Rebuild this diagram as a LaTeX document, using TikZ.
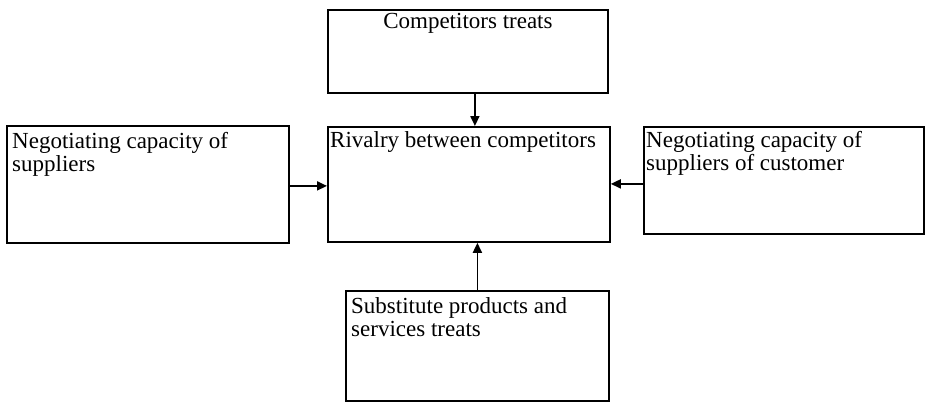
\documentclass[tikz,border=0pt]{standalone}
\usepackage{fontspec}
\setmainfont{Liberation Serif}
\usetikzlibrary{arrows.meta}
\begin{document}
\begin{tikzpicture}[x=1pt,y=-1pt,
  box/.style={draw=black, line width=1.8pt, rectangle, inner sep=0pt, anchor=north west},
  txt/.style={inner sep=0pt, font=\fontsize{23}{23}\selectfont, align=left, anchor=base west},
  arr/.style={line width=1.8pt, -{Triangle[length=10pt,width=9pt]}}]
\fill[white] (0,0) rectangle (926,402);
\useasboundingbox (0,0) rectangle (926,402);
% boxes
\node[box, minimum width=280pt, minimum height=83pt] (top) at (327,9) {};
\node[box, minimum width=282pt, minimum height=115pt] (center) at (327,126) {};
\node[box, minimum width=282pt, minimum height=117pt] (left) at (6,125) {};
\node[box, minimum width=280pt, minimum height=107pt] (right) at (643,126) {};
\node[box, minimum width=263pt, minimum height=110pt] (bottom) at (345,290) {};
% texts (base anchor of a two-line node is the baseline of its last line)
\node[txt, anchor=base] (ttop) at ([yshift=-19pt]top.north) {Competitors treats};
\node[txt] (tcenter) at ([xshift=3pt,yshift=-21pt]center.north west) {Rivalry between competitors};
\node[txt] (tleft) at ([xshift=6pt,yshift=-46pt]left.north west) {Negotiating capacity of\\suppliers};
\node[txt] (tright) at ([xshift=3pt,yshift=-44pt]right.north west) {Negotiating capacity of\\suppliers of customer};
\node[txt] (tbottom) at ([xshift=6pt,yshift=-46pt]bottom.north west) {Substitute products and\\services treats};
% arrows
\draw[arr] ([xshift=7pt]top.south) -- ([xshift=7pt]top.south |- center.north);
\draw[arr] ([yshift=-1.5pt]left.east) -- ([yshift=-1.5pt]left.east -| center.west);
\draw[arr] ([yshift=-3.5pt]right.west) -- ([yshift=-3.5pt]right.west -| center.east);
\draw[arr] (bottom.north) -- (bottom.north |- center.south);
\end{tikzpicture}
\end{document}
